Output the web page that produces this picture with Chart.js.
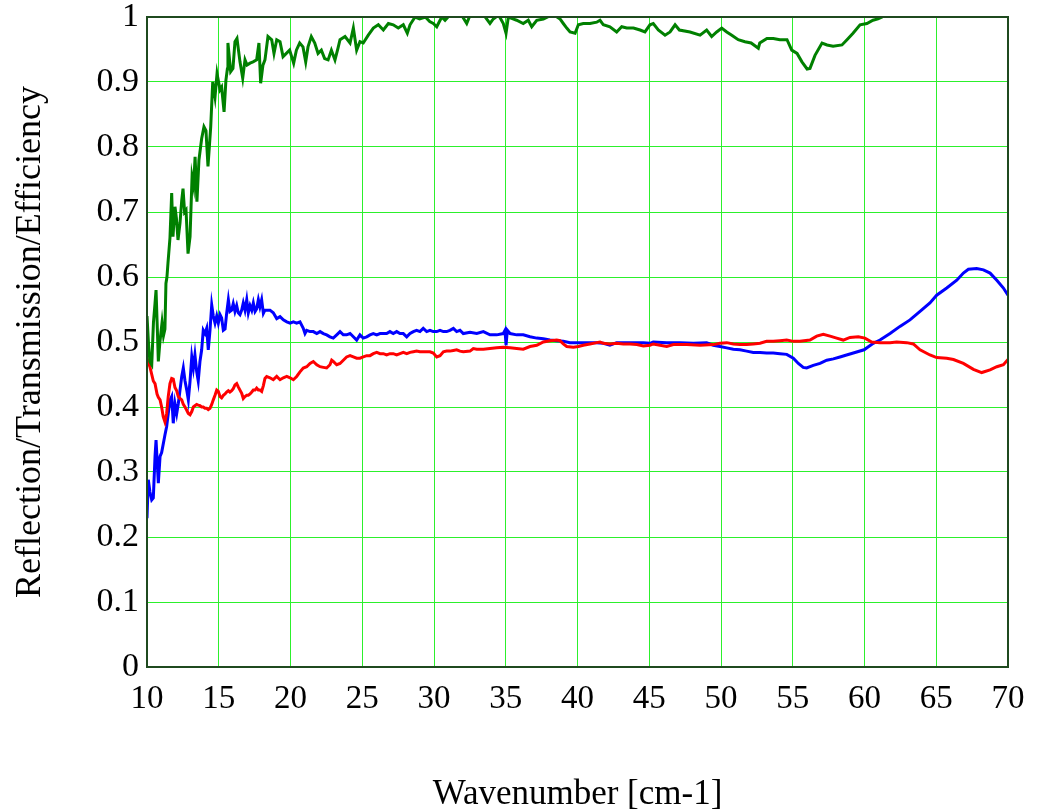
<!DOCTYPE html>
<html>
<head>
<meta charset="utf-8">
<title>Reflection / Transmission / Efficiency</title>
<script src="https://cdn.jsdelivr.net/npm/chart.js@4/dist/chart.umd.min.js"></script>
<style>
  html, body { margin: 0; padding: 0; background: #fff; }
  #wrap { width: 1040px; height: 812px; }
</style>
</head>
<body>
<div id="wrap"><canvas id="spectrum" width="1040" height="812"></canvas></div>
<script>
// axis ticks
const xTickVals = [10, 15, 20, 25, 30, 35, 40, 45, 50, 55, 60, 65, 70];
const xTickLabels = ['10', '15', '20', '25', '30', '35', '40', '45', '50', '55', '60', '65', '70'];
const yTickVals = [0, 0.1, 0.2, 0.3, 0.4, 0.5, 0.6, 0.7, 0.8, 0.9, 1];
const yTickLabels = ['0', '0.1', '0.2', '0.3', '0.4', '0.5', '0.6', '0.7', '0.8', '0.9', '1'];

// green curve (wavenumber, value)
const greenWn = [10.0, 10.1, 10.2, 10.33, 10.45, 10.56, 10.63, 10.72, 10.79, 10.9, 11.05, 11.15, 11.25, 11.32, 11.39, 11.46, 11.6, 11.72, 11.81, 11.95,
  12.05, 12.16, 12.3, 12.42, 12.51, 12.62, 12.72, 12.86, 13.0, 13.14, 13.25, 13.35, 13.48, 13.62, 13.81, 13.97, 14.11, 14.25, 14.44, 14.58,
  14.74, 14.88, 15.09, 15.2, 15.37, 15.5, 15.6, 15.64, 15.83, 15.99, 16.13, 16.27, 16.48, 16.67, 16.83, 16.97, 17.18, 17.39, 17.64, 17.8,
  17.92, 18.08, 18.22, 18.43, 18.69, 18.85, 19.04, 19.27, 19.48, 19.71, 19.94, 20.22, 20.41, 20.64, 20.87, 21.06, 21.22, 21.45, 21.69, 21.92,
  22.15, 22.38, 22.62, 22.85, 23.1, 23.31, 23.45, 23.8, 24.15, 24.38, 24.61, 24.84, 25.07, 25.42, 25.77, 26.12, 26.47, 26.82, 27.16, 27.51,
  27.86, 28.14, 28.33, 28.68, 29.0, 29.4, 29.7, 29.95, 30.19, 30.54, 30.77, 31.1, 31.6, 32.0, 32.28, 32.5, 33.0, 33.5, 33.9, 34.13,
  34.5, 34.83, 35.02, 35.18, 35.5, 35.76, 36.22, 36.57, 36.81, 37.16, 37.62, 38.1, 38.5, 38.78, 39.01, 39.25, 39.48, 39.83, 40.06, 40.4,
  40.87, 41.34, 41.57, 41.8, 42.26, 42.73, 43.08, 43.43, 43.9, 44.36, 44.7, 45.05, 45.28, 45.63, 46.1, 46.45, 46.8, 47.1, 47.84, 48.54,
  49.0, 49.35, 49.7, 50.05, 50.4, 50.75, 51.2, 51.67, 52.1, 52.6, 52.7, 53.2, 53.65, 54.1, 54.6, 54.93, 55.3, 55.64, 56.0, 56.2,
  56.55, 57.04, 57.39, 57.81, 58.43, 58.78, 59.2, 59.69, 60.17, 60.59, 60.94, 61.22, 61.6];
const greenVal = [0.54, 0.50, 0.47, 0.465, 0.53, 0.56, 0.58, 0.52, 0.47, 0.50, 0.53, 0.51, 0.52, 0.59, 0.60, 0.621, 0.66, 0.729, 0.662, 0.708,
  0.69, 0.657, 0.683, 0.718, 0.736, 0.70, 0.703, 0.636, 0.662, 0.754, 0.74, 0.785, 0.716, 0.78, 0.813, 0.831, 0.825, 0.77, 0.831, 0.90,
  0.877, 0.913, 0.888, 0.892, 0.854, 0.903, 0.92, 0.96, 0.916, 0.921, 0.962, 0.967, 0.931, 0.906, 0.934, 0.926, 0.929, 0.931, 0.934, 0.96,
  0.898, 0.926, 0.934, 0.97, 0.965, 0.944, 0.965, 0.962, 0.939, 0.944, 0.949, 0.929, 0.949, 0.96, 0.954, 0.931, 0.954, 0.97, 0.96, 0.944,
  0.949, 0.936, 0.934, 0.949, 0.934, 0.952, 0.965, 0.97, 0.96, 0.983, 0.949, 0.962, 0.96, 0.972, 0.983, 0.988, 0.98, 0.99, 0.988, 0.983,
  0.988, 0.975, 0.988, 1.0, 0.997, 1.0, 0.993, 0.99, 0.985, 1.0, 0.995, 1.003, 1.005, 1.0, 0.99, 1.002, 1.006, 1.002, 0.99, 0.997,
  1.003, 0.99, 0.975, 1.0, 0.997, 0.995, 0.99, 0.995, 0.985, 0.995, 0.997, 1.002, 1.001, 0.997, 0.99, 0.983, 0.977, 0.975, 0.988, 0.99,
  0.99, 0.992, 0.995, 0.988, 0.985, 0.977, 0.985, 0.983, 0.983, 0.98, 0.977, 0.988, 0.99, 0.98, 0.972, 0.977, 0.988, 0.98, 0.977, 0.972,
  0.98, 0.97, 0.977, 0.983, 0.977, 0.972, 0.965, 0.962, 0.96, 0.952, 0.96, 0.967, 0.967, 0.965, 0.965, 0.949, 0.944, 0.931, 0.92, 0.921,
  0.941, 0.96, 0.957, 0.955, 0.957, 0.965, 0.975, 0.988, 0.99, 0.995, 0.997, 1.0, 1.01];

// blue curve
const blueWn = [10.0, 10.09, 10.2, 10.33, 10.44, 10.56, 10.63, 10.79, 10.91, 11.02, 11.25, 11.37, 11.48, 11.6, 11.72, 11.83, 11.95, 12.07, 12.18, 12.3,
  12.42, 12.53, 12.65, 12.77, 12.88, 13.0, 13.12, 13.23, 13.34, 13.46, 13.57, 13.69, 13.81, 13.92, 14.04, 14.16, 14.27, 14.39, 14.51, 14.62,
  14.74, 14.86, 14.97, 15.09, 15.2, 15.32, 15.44, 15.55, 15.67, 15.78, 15.9, 16.01, 16.13, 16.25, 16.36, 16.48, 16.6, 16.71, 16.83, 16.95,
  17.06, 17.18, 17.3, 17.41, 17.53, 17.64, 17.76, 17.87, 17.99, 18.11, 18.22, 18.34, 18.57, 18.8, 19.04, 19.27, 19.5, 19.74, 19.97, 20.2,
  20.43, 20.66, 20.89, 21.01, 21.13, 21.36, 21.59, 21.83, 22.06, 22.29, 22.52, 22.75, 22.98, 23.22, 23.45, 23.68, 23.91, 24.15, 24.38, 24.61,
  24.84, 25.07, 25.31, 25.54, 25.77, 26.01, 26.24, 26.47, 26.7, 26.93, 27.16, 27.4, 27.63, 27.86, 28.1, 28.33, 28.56, 28.79, 29.02, 29.25,
  29.49, 29.72, 29.95, 30.19, 30.42, 30.65, 30.88, 31.11, 31.35, 31.58, 31.81, 32.04, 32.51, 32.98, 33.44, 33.9, 34.37, 34.83, 34.95, 35.02,
  35.11, 35.3, 35.76, 36.22, 36.69, 37.16, 37.62, 38.08, 38.55, 39.01, 39.48, 39.94, 40.4, 40.87, 41.34, 41.8, 42.26, 42.73, 43.19, 43.66,
  44.13, 44.59, 45.05, 45.28, 46.22, 47.15, 48.08, 49.0, 49.46, 49.93, 50.4, 50.86, 51.32, 51.79, 52.25, 52.72, 53.18, 53.64, 54.11, 54.58,
  55.04, 55.39, 55.73, 55.97, 56.43, 56.9, 57.37, 57.83, 58.29, 58.75, 59.22, 59.97, 60.61, 61.08, 61.78, 62.47, 63.17, 63.87, 64.56, 65.03,
  65.73, 66.43, 66.89, 67.24, 67.82, 68.29, 68.75, 69.22, 69.68, 70.0];
const blueVal = [0.229, 0.288, 0.27, 0.257, 0.26, 0.324, 0.349, 0.283, 0.324, 0.33, 0.357, 0.37, 0.39, 0.41, 0.416, 0.375, 0.405, 0.39, 0.405, 0.426,
  0.447, 0.46, 0.44, 0.426, 0.411, 0.44, 0.477, 0.46, 0.48, 0.455, 0.44, 0.47, 0.488, 0.518, 0.513, 0.521, 0.488, 0.518, 0.557, 0.54,
  0.529, 0.54, 0.529, 0.542, 0.537, 0.518, 0.52, 0.544, 0.565, 0.547, 0.549, 0.559, 0.547, 0.556, 0.545, 0.542, 0.549, 0.56, 0.549, 0.565,
  0.545, 0.556, 0.549, 0.56, 0.547, 0.551, 0.565, 0.554, 0.565, 0.544, 0.549, 0.549, 0.549, 0.545, 0.536, 0.539, 0.534, 0.531, 0.529, 0.531,
  0.529, 0.531, 0.521, 0.513, 0.518, 0.516, 0.516, 0.513, 0.516, 0.513, 0.511, 0.508, 0.506, 0.511, 0.516, 0.511, 0.511, 0.513, 0.508, 0.503,
  0.511, 0.506, 0.508, 0.511, 0.513, 0.511, 0.513, 0.513, 0.513, 0.516, 0.513, 0.516, 0.513, 0.513, 0.508, 0.513, 0.516, 0.518, 0.516, 0.521,
  0.516, 0.518, 0.516, 0.516, 0.518, 0.516, 0.516, 0.518, 0.521, 0.516, 0.518, 0.513, 0.515, 0.513, 0.516, 0.511, 0.511, 0.513, 0.518, 0.495,
  0.518, 0.513, 0.511, 0.511, 0.508, 0.506, 0.505, 0.503, 0.502, 0.501, 0.499, 0.499, 0.499, 0.499, 0.499, 0.498, 0.495, 0.499, 0.499, 0.499,
  0.499, 0.499, 0.498, 0.5, 0.499, 0.499, 0.498, 0.499, 0.495, 0.493, 0.491, 0.489, 0.488, 0.486, 0.484, 0.484, 0.483, 0.483, 0.482, 0.481,
  0.475, 0.467, 0.461, 0.46, 0.464, 0.467, 0.472, 0.474, 0.477, 0.48, 0.483, 0.488, 0.498, 0.503, 0.513, 0.524, 0.534, 0.547, 0.56, 0.572,
  0.583, 0.595, 0.606, 0.612, 0.613, 0.611, 0.606, 0.595, 0.583, 0.572];

// red curve
const redWn = [10.0, 10.2, 10.44, 10.56, 10.7, 10.79, 10.91, 11.02, 11.13, 11.25, 11.37, 11.48, 11.6, 11.72, 11.83, 11.95, 12.07, 12.18, 12.3, 12.42,
  12.53, 12.65, 12.77, 12.88, 13.0, 13.12, 13.23, 13.34, 13.46, 13.57, 13.69, 13.81, 13.92, 14.04, 14.16, 14.27, 14.39, 14.51, 14.62, 14.74,
  14.86, 14.97, 15.09, 15.2, 15.32, 15.44, 15.55, 15.67, 15.78, 15.9, 16.01, 16.13, 16.25, 16.36, 16.48, 16.6, 16.71, 16.83, 16.95, 17.06,
  17.18, 17.3, 17.41, 17.53, 17.64, 17.76, 17.87, 17.99, 18.11, 18.22, 18.34, 18.57, 18.8, 19.04, 19.27, 19.5, 19.74, 19.97, 20.2, 20.43,
  20.66, 20.89, 21.13, 21.36, 21.59, 21.83, 22.06, 22.29, 22.52, 22.75, 22.87, 22.98, 23.22, 23.45, 23.68, 23.91, 24.15, 24.38, 24.61, 24.84,
  25.07, 25.31, 25.54, 25.77, 26.01, 26.24, 26.47, 26.7, 26.93, 27.16, 27.4, 27.63, 27.86, 28.1, 28.33, 28.56, 28.79, 29.02, 29.25, 29.49,
  29.72, 29.95, 30.19, 30.42, 30.65, 30.88, 31.11, 31.35, 31.58, 31.81, 32.04, 32.51, 32.74, 32.98, 33.44, 33.9, 34.37, 34.83, 35.3, 35.76,
  36.22, 36.69, 37.16, 37.62, 38.08, 38.55, 38.78, 39.01, 39.25, 39.71, 40.06, 40.4, 40.87, 41.34, 41.57, 41.8, 42.26, 42.73, 43.19, 43.66,
  44.13, 44.59, 45.05, 45.28, 45.75, 46.22, 46.68, 47.61, 48.54, 49.46, 49.93, 50.4, 50.86, 51.32, 51.79, 52.25, 52.72, 53.18, 53.64, 54.11,
  54.58, 55.04, 55.5, 56.2, 56.67, 57.13, 57.6, 58.06, 58.52, 58.99, 59.57, 60.03, 60.5, 61.08, 61.78, 62.24, 62.94, 63.4, 63.87, 64.56,
  65.03, 65.73, 66.2, 66.89, 67.59, 68.17, 68.75, 69.22, 69.68, 70.0];
const redVal = [0.475, 0.462, 0.44, 0.436, 0.42, 0.415, 0.411, 0.40, 0.385, 0.377, 0.39, 0.416, 0.436, 0.444, 0.443, 0.43, 0.425, 0.416, 0.413, 0.411,
  0.404, 0.40, 0.395, 0.39, 0.388, 0.393, 0.40, 0.402, 0.404, 0.403, 0.402, 0.40, 0.40, 0.398, 0.398, 0.396, 0.398, 0.404, 0.411, 0.418,
  0.426, 0.424, 0.416, 0.414, 0.418, 0.42, 0.423, 0.425, 0.423, 0.425, 0.428, 0.434, 0.436, 0.431, 0.426, 0.421, 0.413, 0.416, 0.418, 0.418,
  0.42, 0.423, 0.426, 0.426, 0.429, 0.426, 0.426, 0.424, 0.433, 0.444, 0.447, 0.445, 0.442, 0.447, 0.442, 0.445, 0.447, 0.445, 0.442, 0.447,
  0.454, 0.46, 0.462, 0.467, 0.47, 0.465, 0.462, 0.461, 0.46, 0.465, 0.472, 0.47, 0.465, 0.467, 0.472, 0.477, 0.479, 0.477, 0.475, 0.475,
  0.477, 0.479, 0.479, 0.482, 0.484, 0.482, 0.482, 0.48, 0.482, 0.482, 0.48, 0.482, 0.484, 0.482, 0.484, 0.485, 0.486, 0.485, 0.485, 0.485,
  0.485, 0.483, 0.477, 0.479, 0.485, 0.486, 0.486, 0.487, 0.488, 0.486, 0.485, 0.486, 0.49, 0.489, 0.489, 0.49, 0.491, 0.492, 0.491, 0.49,
  0.489, 0.493, 0.495, 0.5, 0.502, 0.503, 0.502, 0.497, 0.493, 0.492, 0.493, 0.495, 0.497, 0.499, 0.5, 0.498, 0.497, 0.498, 0.497, 0.497,
  0.496, 0.494, 0.495, 0.497, 0.495, 0.493, 0.496, 0.496, 0.495, 0.496, 0.498, 0.499, 0.497, 0.496, 0.496, 0.497, 0.498, 0.501, 0.501, 0.502,
  0.503, 0.501, 0.501, 0.503, 0.509, 0.512, 0.509, 0.506, 0.503, 0.507, 0.508, 0.506, 0.5, 0.499, 0.499, 0.5, 0.499, 0.497, 0.488, 0.48,
  0.476, 0.475, 0.473, 0.467, 0.458, 0.453, 0.457, 0.462, 0.465, 0.473];

const toPoints = (xs, ys) => xs.map((x, i) => ({ x: x, y: ys[i] }));

const serif = 'Liberation Serif, Times New Roman, serif';
const gridGreen = '#2cf02c';
const frameColor = '#1f4a1f';

// dark frame round the plot area
const frame = {
  id: 'frame',
  afterDraw(chart) {
    const { ctx, chartArea: a } = chart;
    ctx.save();
    ctx.strokeStyle = frameColor;
    ctx.lineWidth = 2;
    ctx.strokeRect(a.left, a.top, a.right - a.left, a.bottom - a.top);
    ctx.restore();
  }
};

const line = (data, color) => ({
  data: data,
  borderColor: color,
  borderWidth: 3,
  pointRadius: 0,
  tension: 0,
  fill: false
});

new Chart(document.getElementById('spectrum'), {
  type: 'line',
  data: {
    datasets: [
      line(toPoints(greenWn, greenVal), '#008000'),
      line(toPoints(redWn, redVal), '#ff0000'),
      line(toPoints(blueWn, blueVal), '#0000ff')
    ]
  },
  options: {
    responsive: false,
    animation: false,
    devicePixelRatio: 1,
    layout: { padding: { top: 17, right: 32, bottom: 0, left: 0 } },
    plugins: { legend: { display: false }, tooltip: { enabled: false } },
    scales: {
      x: {
        type: 'linear',
        min: 10,
        max: 70,
        afterBuildTicks: (s) => { s.ticks = xTickVals.map(v => ({ value: v })); },
        afterFit: (s) => { s.height = 145; s.paddingLeft = 0; s.paddingRight = 0; },
        grid: { color: gridGreen, lineWidth: 1, drawTicks: false },
        border: { display: false },
        ticks: {
          color: '#000',
          padding: 16,
          maxRotation: 0,
          autoSkip: false,
          font: { family: serif, size: 33, lineHeight: 1 },
          callback: (v, i) => xTickLabels[i]
        },
        title: {
          display: true,
          text: 'Wavenumber [cm-1]',
          color: '#000',
          padding: 0,
          font: { family: serif, size: 35, lineHeight: 1 }
        }
      },
      y: {
        min: 0,
        max: 1,
        afterBuildTicks: (s) => { s.ticks = yTickVals.map(v => ({ value: v })); },
        afterFit: (s) => { s.width = 147; s.paddingTop = 0; s.paddingBottom = 0; },
        grid: { color: gridGreen, lineWidth: 1, drawTicks: false },
        border: { display: false },
        ticks: {
          color: '#000',
          padding: 8,
          autoSkip: false,
          font: { family: serif, size: 34, lineHeight: 1 },
          callback: (v, i) => yTickLabels[i]
        },
        title: {
          display: true,
          text: 'Reflection/Transmission/Efficiency',
          color: '#000',
          padding: { top: 13, bottom: 0 },
          font: { family: serif, size: 36, lineHeight: 1 }
        }
      }
    }
  },
  plugins: [frame]
});
</script>
</body>
</html>
